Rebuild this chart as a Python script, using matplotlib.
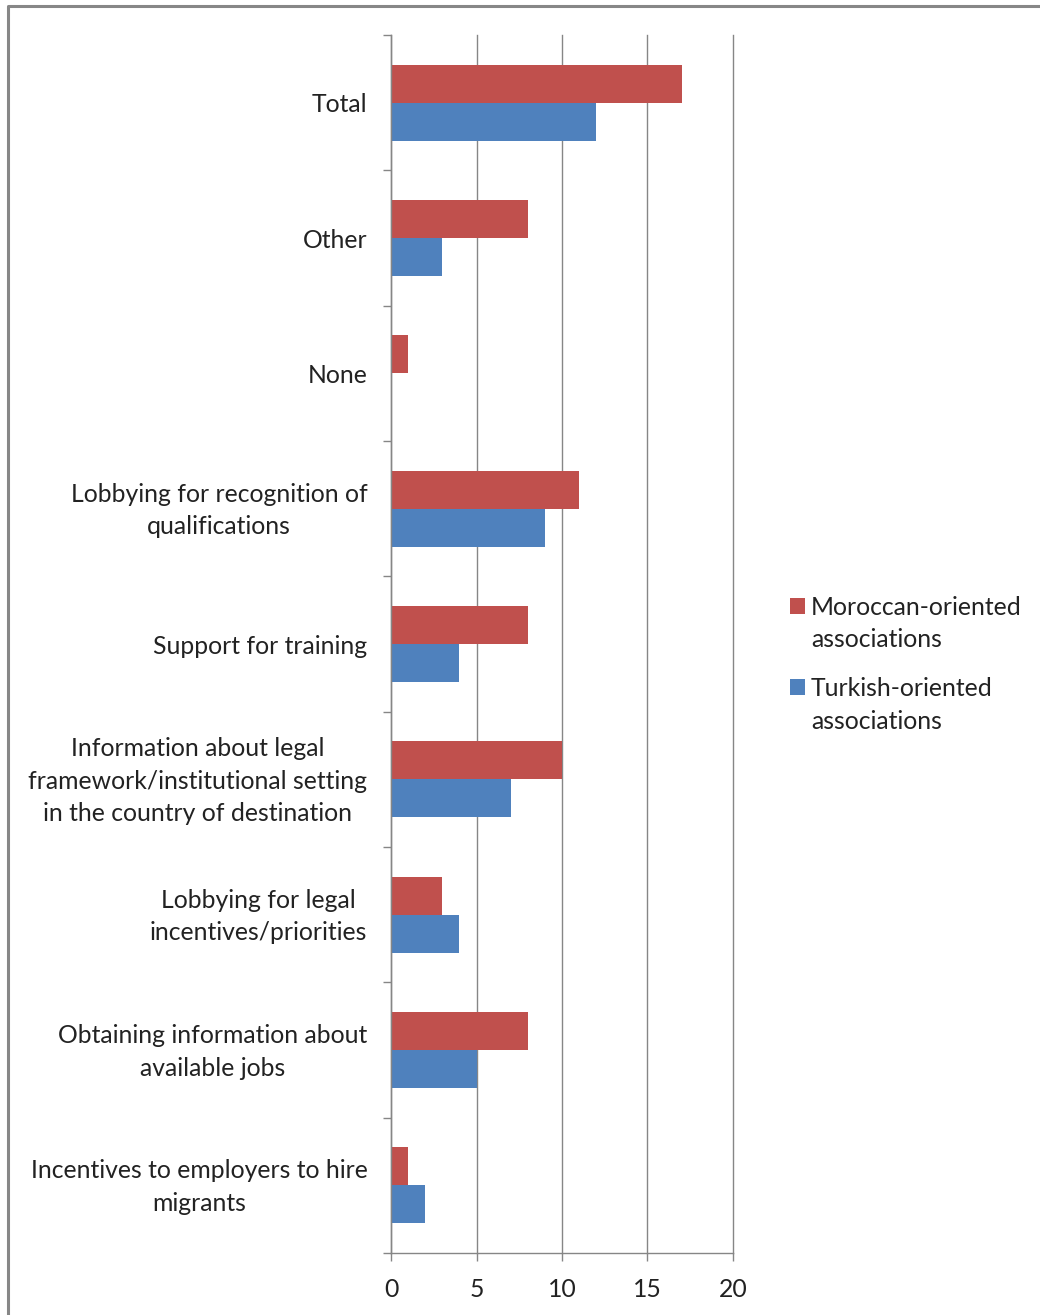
import matplotlib
matplotlib.use("Agg")
import matplotlib.pyplot as plt
from matplotlib.patches import Rectangle, Patch
from matplotlib.legend_handler import HandlerPatch
from matplotlib.lines import Line2D
import matplotlib.transforms as mtransforms
import numpy as np

categories = [
    "Incentives to employers to hire\nmigrants",
    "Obtaining information about\navailable jobs",
    "Lobbying for legal\nincentives/priorities",
    "Information about legal\nframework/institutional setting\nin the country of destination",
    "Support for training",
    "Lobbying for recognition of\nqualifications",
    "None",
    "Other",
    "Total",
]
moroccan = [1, 8, 3, 10, 8, 11, 1, 8, 17]
turkish = [2, 5, 4, 7, 4, 9, 0, 3, 12]
series_names = ["Moroccan-oriented\nassociations", "Turkish-oriented\nassociations"]
xticks = [0, 5, 10, 15, 20]

RED = "#C0504D"
BLUE = "#4F81BD"
GRID = "#868686"
FONT = "Lato"
FS = 17.8
LS = 1.5

plt.rcParams['font.family'] = [FONT, 'DejaVu Sans']

W, H = 1040, 1315
fig = plt.figure(figsize=(W / 100, H / 100), dpi=100)
ax = fig.add_axes([391 / W, 1 - 1253 / H, (733 - 391) / W, (1253 - 35) / H])

y = np.arange(len(categories))
bh = 0.28
ax.barh(y + bh / 2, moroccan, height=bh, color=RED)
ax.barh(y - bh / 2, turkish, height=bh, color=BLUE)

ax.set_xlim(0, 20)
ax.set_ylim(-0.5, len(categories) - 0.5)
ax.set_xticks(xticks)
ax.set_xticklabels([str(t) for t in xticks], fontsize=FS, color="#222222")
ax.set_yticks(y)
ax.set_yticklabels(categories, fontsize=FS, color="#222222", ha="right",
                   multialignment="center", linespacing=LS)
ax.set_yticks(np.arange(-0.5, len(categories), 1.0), minor=True)
ax.tick_params(axis="y", which="major", length=0, pad=17)
ax.tick_params(axis="y", which="minor", length=6, color=GRID, width=1)
ax.tick_params(axis="x", which="major", length=6, color=GRID, width=1, pad=12)

shift = mtransforms.ScaledTranslation(0, 5 / 100, fig.dpi_scale_trans)
for lab in ax.get_yticklabels():
    if "\n" in lab.get_text():
        lab.set_transform(lab.get_transform() + shift)

ax.grid(axis="x", color=GRID, linewidth=1)
for gl in ax.get_xgridlines():
    gl.set_clip_on(False)
ax.set_axisbelow(True)
for s in ["top", "right"]:
    ax.spines[s].set_visible(False)
for s in ["left", "bottom"]:
    ax.spines[s].set_color(GRID)
    ax.spines[s].set_linewidth(1)


def top_patch(legend, orig_handle, xdescent, ydescent, width, height, fontsize):
    return Rectangle((-xdescent, -ydescent + 0.5 * fontsize * LS), width, height)


handles = [Patch(facecolor=RED), Patch(facecolor=BLUE)]
leg = fig.legend(handles, series_names, loc="upper left",
                 bbox_to_anchor=(780 / W, 1 - 586 / H),
                 frameon=False, fontsize=FS, handlelength=0.6, handleheight=0.6,
                 handletextpad=0.25, labelspacing=1.05, borderaxespad=0,
                 handler_map={Patch: HandlerPatch(patch_func=top_patch)})
for t in leg.get_texts():
    t.set_color("#222222")
    t.set_linespacing(LS)

fig.add_artist(Line2D([8 / W, 8 / W, 1], [0, 1 - 6 / H, 1 - 6 / H],
                      transform=fig.transFigure, color="#878787", lw=2.2))

fig.savefig("out.png", dpi=100)
